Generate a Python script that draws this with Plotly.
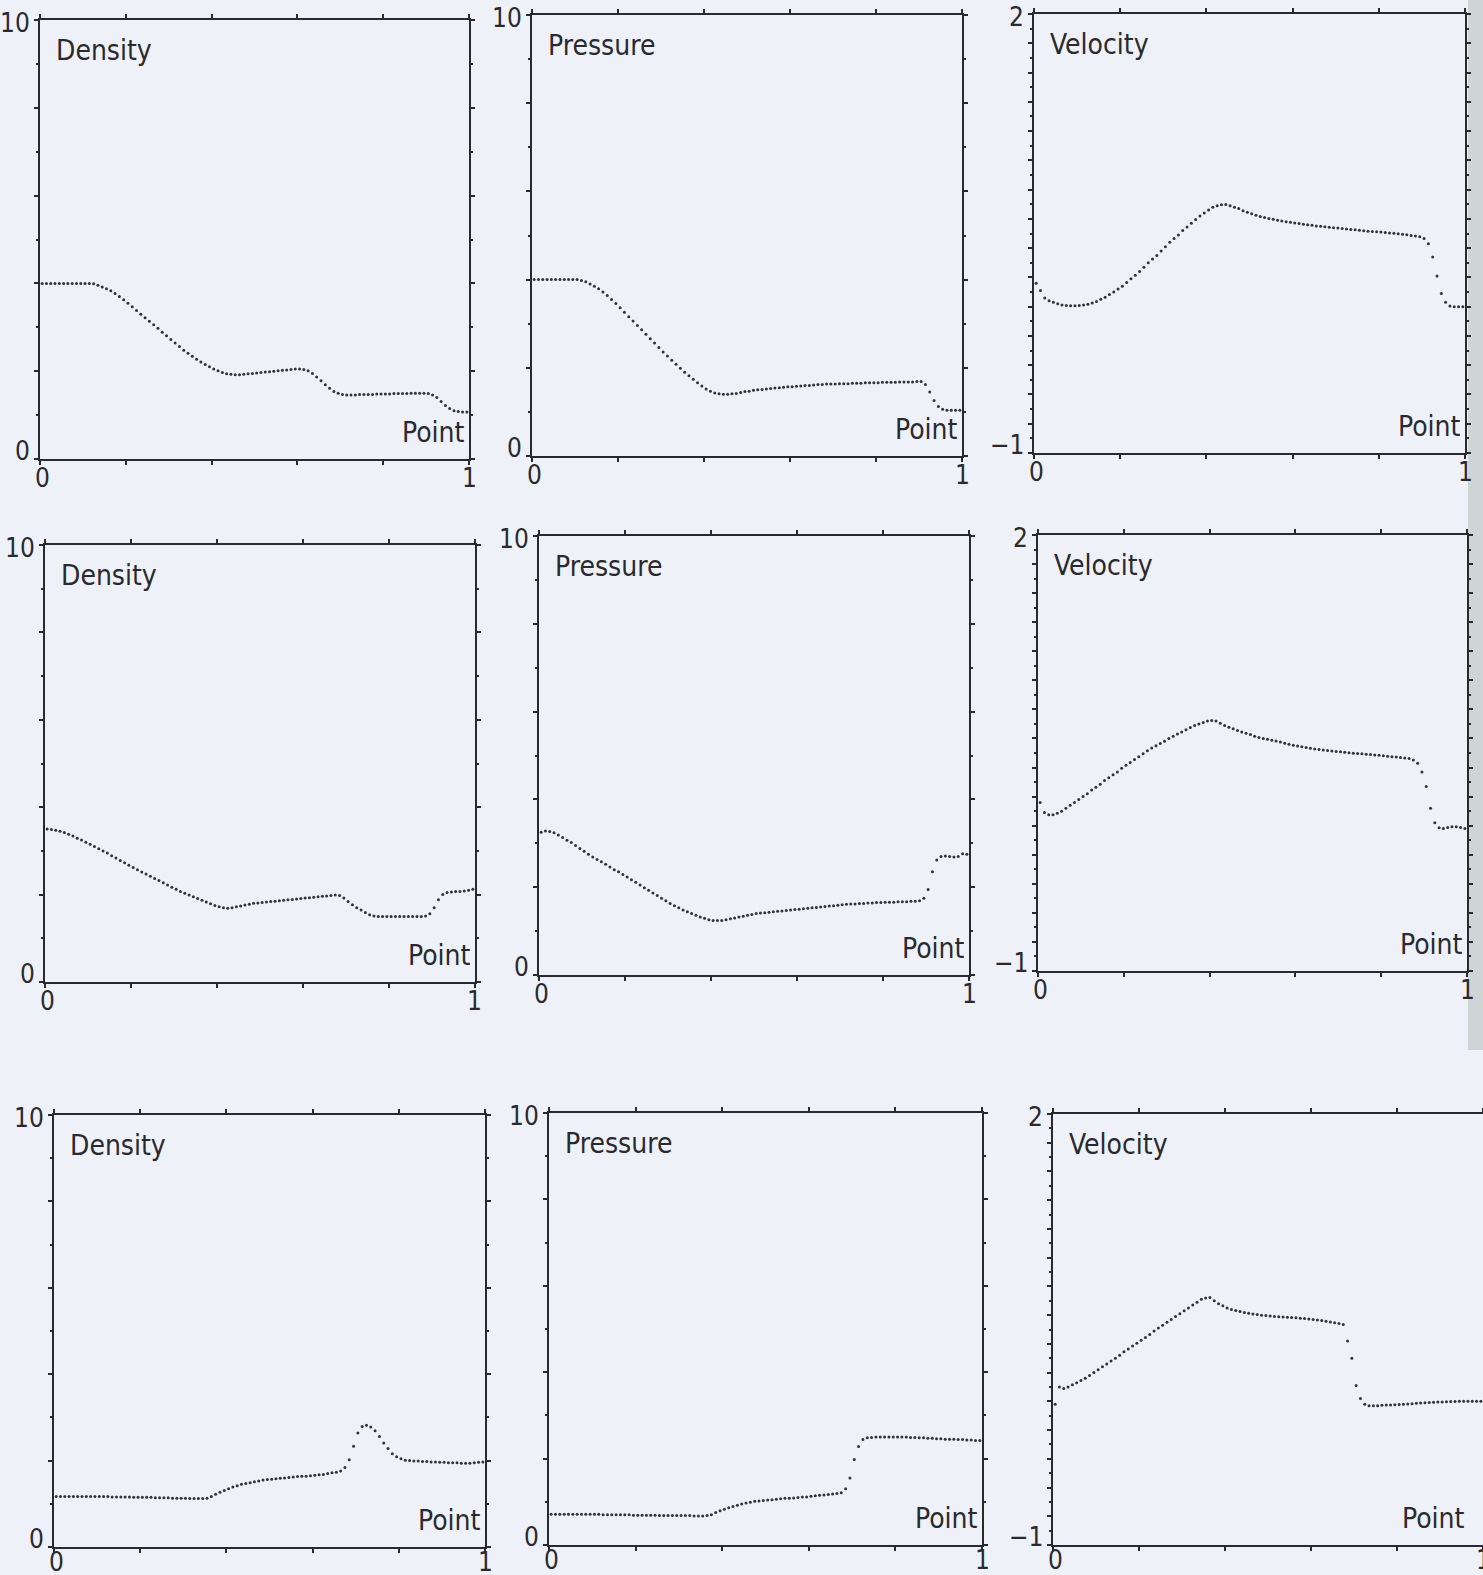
import plotly.graph_objects as go

W, H = 1483, 1575
N = 100
point_x = [(i + 0.5) / N for i in range(N)]

density_1 = [4.00, 4.00, 4.00, 4.00, 4.00, 4.00, 4.00, 4.00, 4.00, 4.00,
             4.00, 4.00, 3.99, 3.96, 3.92, 3.88, 3.83, 3.77, 3.70, 3.63,
             3.55, 3.47, 3.38, 3.30, 3.22, 3.14, 3.06, 2.98, 2.89, 2.81,
             2.72, 2.64, 2.56, 2.48, 2.41, 2.34, 2.27, 2.21, 2.15, 2.10,
             2.05, 2.01, 1.97, 1.94, 1.93, 1.92, 1.92, 1.93, 1.94, 1.95,
             1.96, 1.97, 1.98, 1.99, 2.00, 2.01, 2.02, 2.03, 2.04, 2.05,
             2.05, 2.04, 2.01, 1.95, 1.87, 1.78, 1.69, 1.61, 1.54, 1.50,
             1.47, 1.46, 1.46, 1.46, 1.47, 1.47, 1.47, 1.47, 1.48, 1.48,
             1.48, 1.48, 1.49, 1.49, 1.49, 1.49, 1.50, 1.50, 1.50, 1.50,
             1.49, 1.46, 1.40, 1.31, 1.22, 1.15, 1.10, 1.08, 1.07, 1.07]

pressure_1 = [4.00, 4.00, 4.00, 4.00, 4.00, 4.00, 4.00, 4.00, 4.00, 4.00,
              4.00, 3.98, 3.95, 3.90, 3.85, 3.79, 3.72, 3.64, 3.55, 3.46,
              3.36, 3.26, 3.16, 3.06, 2.96, 2.86, 2.76, 2.66, 2.56, 2.46,
              2.36, 2.27, 2.17, 2.08, 1.99, 1.90, 1.82, 1.74, 1.66, 1.59,
              1.52, 1.47, 1.43, 1.41, 1.40, 1.40, 1.41, 1.42, 1.44, 1.46,
              1.47, 1.49, 1.50, 1.51, 1.52, 1.53, 1.54, 1.55, 1.56, 1.57,
              1.57, 1.58, 1.59, 1.60, 1.60, 1.61, 1.62, 1.62, 1.63, 1.63,
              1.63, 1.64, 1.64, 1.64, 1.65, 1.65, 1.65, 1.66, 1.66, 1.66,
              1.66, 1.67, 1.67, 1.67, 1.67, 1.68, 1.68, 1.68, 1.68, 1.69,
              1.69, 1.62, 1.45, 1.26, 1.12, 1.06, 1.04, 1.04, 1.04, 1.04]

velocity_1 = [0.16, 0.11, 0.06, 0.04, 0.03, 0.02, 0.012, 0.008, 0.006, 0.006,
              0.008, 0.012, 0.017, 0.025, 0.036, 0.05, 0.065, 0.083, 0.10, 0.12,
              0.14, 0.165, 0.19, 0.215, 0.24, 0.27, 0.30, 0.325, 0.35, 0.38,
              0.41, 0.44, 0.465, 0.49, 0.52, 0.545, 0.57, 0.595, 0.62, 0.64,
              0.66, 0.68, 0.69, 0.697, 0.698, 0.69, 0.68, 0.67, 0.655, 0.645,
              0.635, 0.625, 0.617, 0.61, 0.603, 0.597, 0.591, 0.586, 0.581, 0.577,
              0.572, 0.568, 0.564, 0.56, 0.556, 0.552, 0.549, 0.546, 0.543, 0.54,
              0.537, 0.534, 0.531, 0.528, 0.525, 0.522, 0.519, 0.516, 0.514, 0.512,
              0.51, 0.507, 0.504, 0.501, 0.498, 0.495, 0.491, 0.487, 0.483, 0.478,
              0.465, 0.43, 0.34, 0.21, 0.09, 0.03, 0.005, 0.0, 0.0, 0.0]

density_2 = [3.50, 3.49, 3.47, 3.45, 3.42, 3.38, 3.34, 3.29, 3.25, 3.20,
             3.15, 3.10, 3.05, 3.00, 2.95, 2.89, 2.84, 2.78, 2.73, 2.67,
             2.62, 2.57, 2.52, 2.47, 2.42, 2.37, 2.32, 2.27, 2.22, 2.17,
             2.12, 2.07, 2.03, 1.99, 1.95, 1.91, 1.87, 1.83, 1.79, 1.75,
             1.72, 1.70, 1.69, 1.70, 1.72, 1.74, 1.76, 1.78, 1.80, 1.81,
             1.82, 1.83, 1.84, 1.85, 1.86, 1.87, 1.88, 1.89, 1.90, 1.91,
             1.92, 1.93, 1.94, 1.95, 1.96, 1.97, 1.98, 1.99, 1.98, 1.92,
             1.84, 1.77, 1.70, 1.65, 1.59, 1.54, 1.51, 1.50, 1.50, 1.50,
             1.50, 1.50, 1.50, 1.50, 1.50, 1.50, 1.50, 1.50, 1.51, 1.56,
             1.70, 1.88, 2.00, 2.05, 2.06, 2.07, 2.07, 2.08, 2.10, 2.12]

pressure_2 = [3.25, 3.28, 3.27, 3.24, 3.19, 3.13, 3.07, 3.02, 2.95, 2.88,
              2.82, 2.75, 2.69, 2.63, 2.58, 2.52, 2.46, 2.40, 2.35, 2.29,
              2.23, 2.17, 2.11, 2.05, 1.99, 1.93, 1.87, 1.81, 1.75, 1.69,
              1.63, 1.58, 1.53, 1.48, 1.44, 1.40, 1.36, 1.32, 1.29, 1.26,
              1.24, 1.24, 1.24, 1.26, 1.28, 1.30, 1.32, 1.34, 1.36, 1.38,
              1.40, 1.41, 1.42, 1.43, 1.44, 1.45, 1.46, 1.47, 1.48, 1.49,
              1.50, 1.51, 1.52, 1.53, 1.54, 1.55, 1.56, 1.57, 1.58, 1.59,
              1.60, 1.61, 1.62, 1.62, 1.63, 1.63, 1.64, 1.64, 1.65, 1.65,
              1.66, 1.66, 1.66, 1.67, 1.67, 1.67, 1.68, 1.68, 1.69, 1.75,
              1.95, 2.35, 2.62, 2.70, 2.71, 2.70, 2.69, 2.70, 2.76, 2.75]

velocity_2 = [0.16, 0.09, 0.075, 0.075, 0.085, 0.10, 0.12, 0.14, 0.16, 0.18,
              0.20, 0.22, 0.245, 0.265, 0.285, 0.31, 0.33, 0.35, 0.37, 0.395,
              0.415, 0.435, 0.455, 0.475, 0.495, 0.515, 0.535, 0.55, 0.565, 0.58,
              0.60, 0.615, 0.63, 0.645, 0.66, 0.675, 0.69, 0.70, 0.71, 0.72,
              0.724, 0.72, 0.705, 0.69, 0.678, 0.666, 0.655, 0.645, 0.636, 0.628,
              0.615, 0.607, 0.60, 0.594, 0.588, 0.582, 0.575, 0.567, 0.56, 0.553,
              0.548, 0.543, 0.538, 0.533, 0.528, 0.524, 0.52, 0.517, 0.514, 0.511,
              0.508, 0.505, 0.502, 0.499, 0.496, 0.494, 0.491, 0.489, 0.486, 0.484,
              0.481, 0.478, 0.475, 0.472, 0.469, 0.466, 0.462, 0.452, 0.43, 0.37,
              0.27, 0.12, 0.02, -0.015, -0.02, -0.012, -0.008, -0.008, -0.012, -0.019]

density_3 = [1.17, 1.17, 1.17, 1.17, 1.17, 1.17, 1.17, 1.17, 1.17, 1.17,
             1.17, 1.17, 1.17, 1.16, 1.16, 1.16, 1.16, 1.16, 1.15, 1.15,
             1.15, 1.15, 1.15, 1.14, 1.14, 1.14, 1.14, 1.13, 1.13, 1.13,
             1.13, 1.12, 1.12, 1.12, 1.12, 1.13, 1.17, 1.22, 1.27, 1.31,
             1.35, 1.39, 1.42, 1.45, 1.47, 1.49, 1.51, 1.53, 1.55, 1.56,
             1.57, 1.58, 1.59, 1.60, 1.61, 1.62, 1.63, 1.64, 1.64, 1.65,
             1.66, 1.67, 1.68, 1.70, 1.72, 1.73, 1.76, 1.84, 2.02, 2.33,
             2.64, 2.79, 2.82, 2.78, 2.69, 2.56, 2.41, 2.28, 2.16, 2.09,
             2.04, 2.01, 2.00, 1.99, 1.99, 1.98, 1.98, 1.97, 1.97, 1.96,
             1.96, 1.95, 1.95, 1.95, 1.94, 1.94, 1.94, 1.95, 1.96, 1.97]

pressure_3 = [0.71, 0.71, 0.71, 0.71, 0.71, 0.71, 0.71, 0.71, 0.71, 0.71,
              0.71, 0.71, 0.70, 0.70, 0.70, 0.70, 0.70, 0.70, 0.70, 0.69,
              0.69, 0.69, 0.69, 0.69, 0.69, 0.68, 0.68, 0.68, 0.68, 0.68,
              0.68, 0.68, 0.68, 0.67, 0.67, 0.67, 0.68, 0.70, 0.75, 0.79,
              0.83, 0.86, 0.89, 0.92, 0.95, 0.97, 0.99, 1.01, 1.02, 1.03,
              1.04, 1.05, 1.06, 1.07, 1.08, 1.08, 1.09, 1.10, 1.11, 1.11,
              1.13, 1.14, 1.15, 1.16, 1.17, 1.18, 1.19, 1.21, 1.30, 1.55,
              1.98, 2.28, 2.44, 2.48, 2.49, 2.50, 2.50, 2.50, 2.50, 2.50,
              2.50, 2.50, 2.50, 2.49, 2.49, 2.48, 2.48, 2.47, 2.47, 2.46,
              2.46, 2.45, 2.45, 2.45, 2.44, 2.44, 2.43, 2.43, 2.42, 2.42]

velocity_3 = [-0.02, 0.10, 0.09, 0.10, 0.115, 0.13, 0.145, 0.16, 0.18, 0.20,
              0.22, 0.24, 0.26, 0.28, 0.30, 0.32, 0.345, 0.365, 0.385, 0.405,
              0.425, 0.445, 0.465, 0.49, 0.51, 0.53, 0.55, 0.57, 0.59, 0.61,
              0.63, 0.65, 0.67, 0.69, 0.71, 0.72, 0.722, 0.70, 0.68, 0.665,
              0.65, 0.64, 0.632, 0.625, 0.619, 0.613, 0.608, 0.604, 0.60, 0.597,
              0.594, 0.591, 0.589, 0.587, 0.585, 0.583, 0.581, 0.579, 0.576, 0.573,
              0.57, 0.566, 0.562, 0.557, 0.552, 0.547, 0.542, 0.535, 0.42, 0.30,
              0.11, 0.02, -0.02, -0.03, -0.03, -0.03, -0.028, -0.026, -0.025, -0.024,
              -0.022, -0.02, -0.018, -0.016, -0.014, -0.012, -0.01, -0.008, -0.006, -0.005,
              -0.004, -0.003, -0.002, -0.001, 0.0, 0.0, 0.0, 0.0, 0.0, 0.0]

titles = ["Density", "Pressure", "Velocity"]
x_tick_vals = [0, 0.2, 0.4, 0.6, 0.8, 1]
x_end_labels = ["0", "1"]
dp_tick_vals = [0, 2, 4, 6, 8, 10]
dp_end_labels = ["0", "10"]
v_tick_vals = [-1, -0.8, -0.6, -0.4, -0.2, 0, 0.2, 0.4, 0.6, 0.8, 1, 1.2, 1.4, 1.6, 1.8, 2]
v_end_labels = ["\u22121", "2"]

series = [density_1, pressure_1, velocity_1,
          density_2, pressure_2, velocity_2,
          density_3, pressure_3, velocity_3]

# panel boxes in pixels: left, right, top, bottom
boxes = [(40, 469, 20, 459), (532, 962, 15, 456), (1034, 1465, 14, 453),
         (45, 475, 545, 982), (539, 969, 536, 975), (1038, 1467, 535, 971),
         (54, 485, 1115, 1547), (549, 982, 1113, 1545), (1053, 1483, 1114, 1545)]

FONT = "DejaVu Sans Condensed, DejaVu Sans, sans-serif"
INK = "#2a2a2e"
BG = "#eef2f8"

fig = go.Figure()
annotations = []


def label(text, xr, yr, x, y, xanchor, yanchor, xshift, yshift, size):
    annotations.append(dict(text=text, xref=xr, yref=yr, x=x, y=y,
                            xanchor=xanchor, yanchor=yanchor,
                            xshift=xshift, yshift=yshift, showarrow=False,
                            font=dict(family=FONT, size=size, color=INK)))


for k, ys in enumerate(series):
    n = k + 1
    sfx = "" if n == 1 else str(n)
    l, r, t, b = boxes[k]
    kind = k % 3
    fig.add_trace(go.Scatter(x=point_x, y=ys, mode="markers",
                             marker=dict(size=3, color="#333337"),
                             xaxis="x" + sfx, yaxis="y" + sfx,
                             showlegend=False, hoverinfo="skip",
                             cliponaxis=False))
    common = dict(showline=True, linecolor=INK, linewidth=2, mirror="ticks",
                  showgrid=False, zeroline=False, ticks="outside", ticklen=4,
                  tickwidth=2, tickcolor=INK, automargin=False,
                  showticklabels=False)
    xa = dict(domain=[l / W, min(r / W, 1.0)], range=[0, 1], anchor="y" + sfx,
              tickmode="array", tickvals=x_tick_vals, **common)
    if kind == 2:
        yrange = [-1, 2]
        tv, ends = v_tick_vals, v_end_labels
        minor = dict(dtick=0.1, ticklen=2, tickcolor=INK, ticks="outside")
    else:
        yrange = [0, 10]
        tv, ends = dp_tick_vals, dp_end_labels
        minor = dict(dtick=1, ticklen=2, tickcolor=INK, ticks="outside")
    ya = dict(domain=[1 - b / H, 1 - t / H], range=yrange, anchor="x" + sfx,
              tickmode="array", tickvals=tv, minor=minor, **common)
    fig.layout["xaxis" + sfx] = xa
    fig.layout["yaxis" + sfx] = ya

    xd, yd = "x" + sfx + " domain", "y" + sfx + " domain"
    xlab_shift = -15 if k >= 6 else -19
    # y-axis end labels
    label(ends[1], xd, yd, 0, 1, "right", "middle", -8, -3, 26)
    label(ends[0], xd, yd, 0, 0, "right", "middle", -8, 8, 26)
    # x-axis end labels
    label(x_end_labels[0], xd, yd, 0, 0, "center", "middle", 2, xlab_shift, 26)
    label(x_end_labels[1], xd, yd, 1, 0, "center", "middle", 0, xlab_shift, 26)
    # panel title and axis name
    label(titles[kind], xd, yd, 0, 1, "left", "top", 14, -12, 28)
    label("Point", xd, yd, 1, 0, "right", "bottom",
          (-16 if k == 8 else -2), 8, 28)

fig.update_layout(
    width=W, height=H,
    margin=dict(l=0, r=0, t=0, b=0, autoexpand=False),
    paper_bgcolor=BG, plot_bgcolor=BG,
    annotations=annotations,
    shapes=[dict(type="rect", xref="paper", yref="paper",
                 x0=1468 / W, x1=1.0, y0=1 - 1050 / H, y1=1.0,
                 fillcolor="#cdd6d4", line=dict(width=0), layer="below")],
)

fig.write_html("out.html", config={"displayModeBar": False},
               post_script="document.body.style.margin='0';document.body.style.overflow='hidden';")
